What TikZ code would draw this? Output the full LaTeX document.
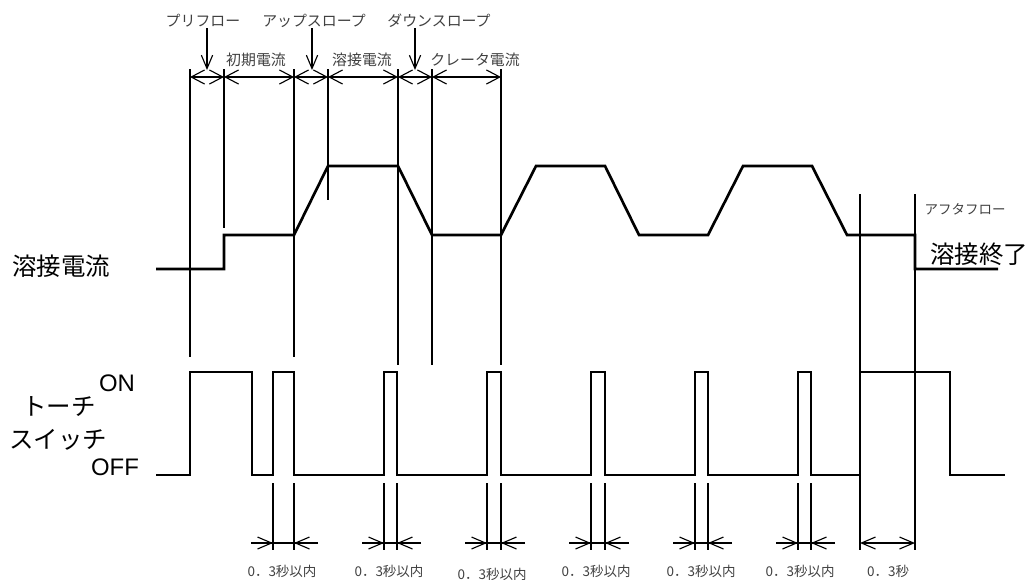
\documentclass[tikz,border=0pt]{standalone}
\usepackage{fontspec}
\setmainfont{Liberation Sans}
\newfontfamily\jpfont{Noto Sans CJK JP}
\usetikzlibrary{arrows.meta}
\begin{document}
\begin{tikzpicture}[x={(0.025cm,0)},y={(0,-0.025cm)},
  thinln/.style={line width=0.8pt},
  wave/.style={line width=1.9pt,line join=miter},
  dimtop/.style={thinln,{Straight Barb[length=9.5pt,width=10pt]}-{Straight Barb[length=9.5pt,width=10pt]}},
  downarr/.style={thinln,-{Straight Barb[length=9.5pt,width=8pt]}},
  dimbot/.style={thinln,-{Straight Barb[length=10pt,width=8.5pt]}},
  dimbotboth/.style={thinln,{Straight Barb[length=10pt,width=8.5pt]}-{Straight Barb[length=10pt,width=8.5pt]}},
  biglbl/.style={inner sep=0pt,font=\jpfont\fontsize{17.4pt}{17.4pt}\selectfont},
  onoff/.style={inner sep=0pt,font=\fontsize{17pt}{17pt}\selectfont},
  smalllbl/.style={inner sep=0pt,text=black!75,font=\jpfont\fontsize{10.6pt}{10.6pt}\selectfont},
  tinylbl/.style={inner sep=0pt,text=black!75,font=\jpfont\fontsize{9.6pt}{9.6pt}\selectfont}]
\useasboundingbox (0,0) rectangle (1029,579);

% top labels
\node[smalllbl] (pre) at (203,21) {プリフロー};
\node[smalllbl] (up) at (314,21) {アップスロープ};
\node[smalllbl] (down) at (439,21) {ダウンスロープ};
\node[smalllbl] (init) at (256,60) {初期電流};
\node[smalllbl] (weld) at (362,60) {溶接電流};
\node[smalllbl] (crat) at (475,60) {クレータ電流};

% down arrows
\coordinate (pa) at (207,70);
\coordinate (ua) at (312,70);
\coordinate (da) at (415,70);
\draw[downarr] (207,28) -- (pa);
\draw[downarr] (312,28) -- (ua);
\draw[downarr] (415,28) -- (da);

% top dimension line
\foreach \a/\b in {190/224,224/294,294/328,328/398,398/432,432/501}
  \draw[dimtop] (\a,77) -- (\b,77);

% vertical guide lines
\draw[thinln] (190,69) -- (190,357);
\draw[thinln] (224,69) -- (224,228);
\draw[thinln] (294,69) -- (294,357);
\draw[thinln] (328,69) -- (328,200);
\draw[thinln] (398,69) -- (398,365);
\draw[thinln] (432,69) -- (432,365);
\draw[thinln] (501,69) -- (501,365);
\draw[thinln] (860,194) -- (860,550);
\draw[thinln] (915,194) -- (915,550);

% welding current waveform
\draw[wave] (156,269) -- (224,269) -- (224,235) -- (294,235) -- (328,166) -- (398,166)
  -- (432,235) -- (501,235) -- (536,166) -- (605,166) -- (639,235) -- (708,235)
  -- (743,166) -- (812,166) -- (847,235) -- (915,235) -- (915,269) -- (998,269);

% torch switch waveform
\draw[wave] (156,475) -- (190,475) -- (190,372) -- (252,372) -- (252,475) -- (273,475)
  -- (273,372) -- (294,372) -- (294,475) -- (384,475) -- (384,372) -- (397,372)
  -- (397,475) -- (487,475) -- (487,372) -- (501,372) -- (501,475) -- (591,475)
  -- (591,372) -- (605,372) -- (605,475) -- (695,475) -- (695,372) -- (708,372)
  -- (708,475) -- (798,475) -- (798,372) -- (811,372) -- (811,475) -- (860,475)
  -- (860,372) -- (950,372) -- (950,475) -- (1005,475);

% bottom dimension marks
\foreach \a/\b in {273/294,384/397,487/501,591/605,695/708,798/811}{
  \draw[thinln] (\a,483) -- (\a,550);
  \draw[thinln] (\b,483) -- (\b,550);
  \draw[thinln] (\a-22,543) -- (\b+24,543);
  \draw[dimbot] (\a-22,543) -- (\a,543);
  \draw[dimbot] (\b+24,543) -- (\b,543);
}
\draw[dimbotboth] (860,543) -- (915,543);

% bottom labels
\node[tinylbl] (t1) at (282,571) {0．3秒以内};
\node[tinylbl] (t2) at (389,571) {0．3秒以内};
\node[tinylbl] (t3) at (492,574) {0．3秒以内};
\node[tinylbl] (t4) at (596,571) {0．3秒以内};
\node[tinylbl] (t5) at (701,571) {0．3秒以内};
\node[tinylbl] (t6) at (800,571) {0．3秒以内};
\node[tinylbl] (t7) at (888,571) {0．3秒};

% side labels
\node[biglbl] (cur) at (61,266) {溶接電流};
\node[onoff] (on) at (117,383) {ON};
\node[biglbl] (torch) at (59,407) {トーチ};
\node[biglbl] (sw) at (58,440) {スイッチ};
\node[onoff] (off) at (115,467) {OFF};
\node[biglbl] (end) at (979,254) {溶接終了};
\node[tinylbl] (after) at (965,209) {アフタフロー};
\end{tikzpicture}
\end{document}
